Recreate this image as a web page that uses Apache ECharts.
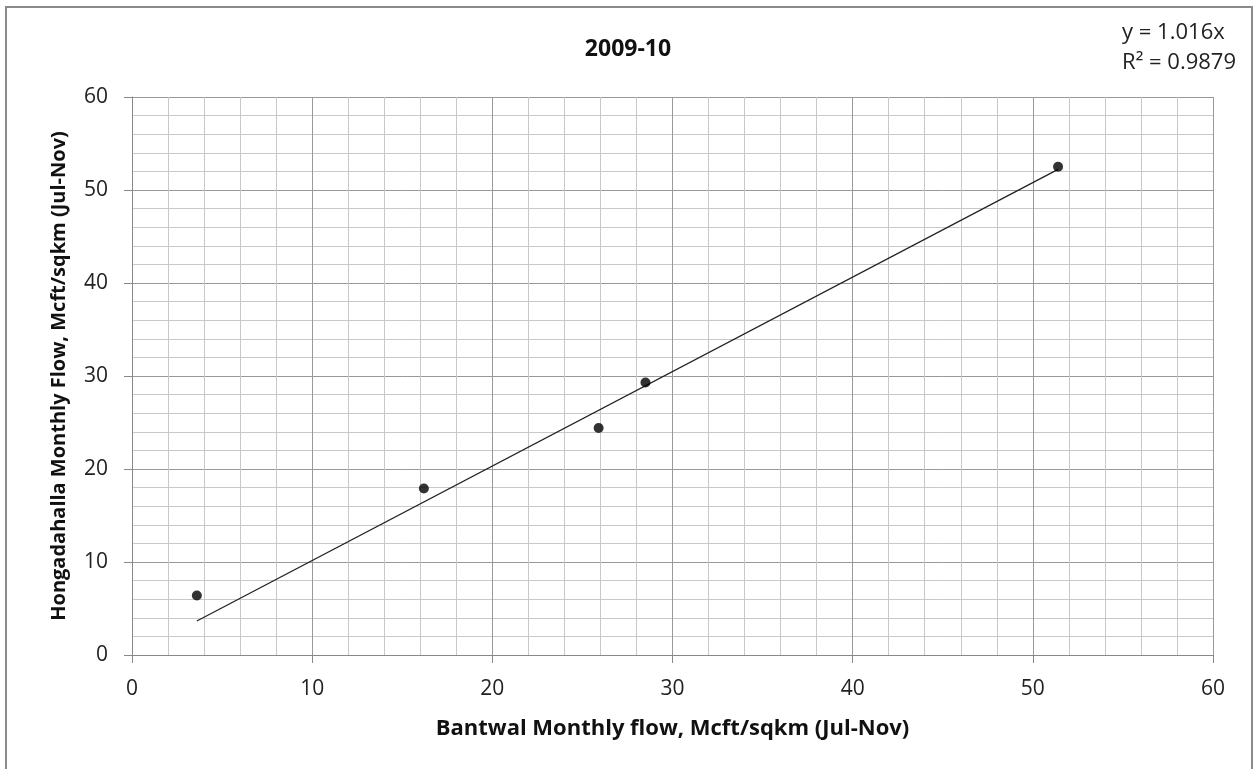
<!DOCTYPE html>
<html>
<head>
<meta charset="utf-8">
<script src="https://cdn.jsdelivr.net/npm/echarts@6/dist/echarts.min.js"></script>
<style>html,body{margin:0;padding:0;background:#fff;}#c{width:1256px;height:769px;}</style>
</head>
<body>
<div id="c"></div>
<script>
const bantwal = [3.6, 16.2, 25.9, 28.5, 51.4];
const hongadahalla = [6.4, 17.9, 24.4, 29.3, 52.5];
const trendSlope = 1.016;
const equationLines = ['y = 1.016x', 'R² = 0.9879'];
const titleText = '2009-10';
const xTitle = 'Bantwal Monthly flow, Mcft/sqkm (Jul-Nov)';
const yTitle = 'Hongadahalla Monthly Flow, Mcft/sqkm (Jul-Nov)';

const points = bantwal.map((x, i) => [x, hongadahalla[i]]);
const xMin = Math.min(...bantwal), xMax = Math.max(...bantwal);
const trend = [[xMin, trendSlope * xMin], [xMax, trendSlope * xMax]];
const FONT = '"Open Sans", "Noto Sans", sans-serif';

const chart = echarts.init(document.getElementById('c'), null, {renderer: 'canvas'});
const axisCommon = {
  type: 'value', min: 0, max: 60, interval: 10,
  axisLine: {show: true, lineStyle: {color: '#888', width: 1}},
  axisTick: {show: true, inside: false, length: 8, lineStyle: {color: '#888'}},
  axisLabel: {color: '#222', fontSize: 21, fontFamily: FONT},
  splitLine: {show: true, lineStyle: {color: '#999', width: 1}},
  minorTick: {show: false, splitNumber: 5},
  minorSplitLine: {show: true, lineStyle: {color: '#c8c8c8', width: 1}},
  nameLocation: 'middle'
};
chart.setOption({
  animation: false,
  backgroundColor: '#fff',
  title: {text: titleText, left: 'center', top: 33,
    textStyle: {fontSize: 23, fontWeight: 'bold', color: '#111', fontFamily: FONT}},
  grid: {left: 132, right: 43, top: 97, bottom: 114},
  xAxis: Object.assign({}, axisCommon, {name: xTitle, nameGap: 63,
    nameTextStyle: {color: '#111', fontSize: 22, fontWeight: 'bold', fontFamily: FONT},
    axisLabel: Object.assign({}, axisCommon.axisLabel, {margin: 24})}),
  yAxis: Object.assign({}, axisCommon, {name: yTitle, nameGap: 63,
    nameTextStyle: {color: '#111', fontSize: 20, fontWeight: 'bold', fontFamily: FONT},
    axisLabel: Object.assign({}, axisCommon.axisLabel, {margin: 24})}),
  graphic: [
    {type: 'rect', shape: {x: 6, y: 7, width: 1246, height: 780},
      style: {fill: 'none', stroke: '#8a8a8a', lineWidth: 2}, silent: true},
    {type: 'text', right: 20, top: 18,
      style: {text: equationLines.join('\n'), fill: '#222', fontSize: 22, lineHeight: 30,
        align: 'right', fontFamily: FONT}}
  ],
  series: [
    {type: 'line', data: trend, symbol: 'none', lineStyle: {color: '#222', width: 1.3}, z: 3},
    {type: 'scatter', data: points, symbol: 'circle', symbolSize: 10,
      itemStyle: {color: '#000'}, z: 4}
  ]
});
</script>
</body>
</html>
